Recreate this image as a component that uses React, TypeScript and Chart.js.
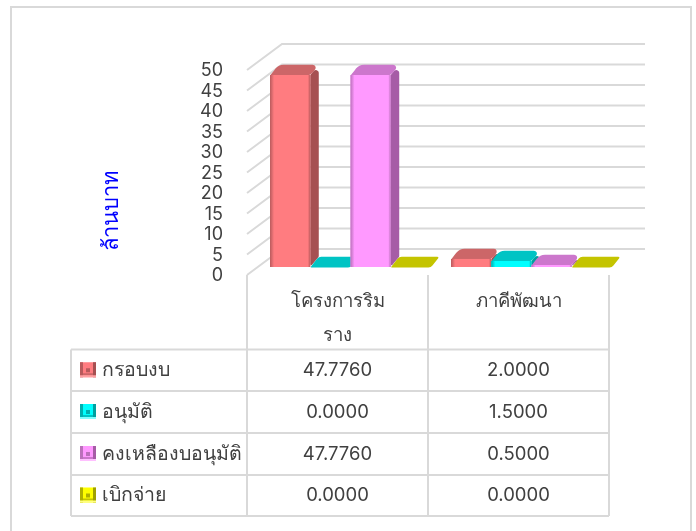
import React, { useEffect, useRef } from "react";
import { Chart, registerables } from "chart.js";

Chart.register(...registerables);

const categories = [["โครงการริม", "ราง"], ["ภาคีพัฒนา"]];
const seriesNames = ["กรอบงบ", "อนุมัติ", "คงเหลืองบอนุมัติ", "เบิกจ่าย"];
const budget = [47.776, 2.0];
const approved = [0, 1.5];
const remaining = [47.776, 0.5];
const disbursed = [0, 0];
const yTitle = "ล้านบาท";
const FONT = '"Inter", "Noto Sans", sans-serif';
const TEXT = "#404040";
const LINE = "#D9D9D9";

const palette = [
  { front: "#FF7C80", top: "#CC6668", side: "#A65052", dark: "#B85A5C", light: "#FFA0A2" },
  { front: "#00FFFF", top: "#00C4C4", side: "#00A0A0", dark: "#00B0B0", light: "#80FFFF" },
  { front: "#FF99FF", top: "#CC77CC", side: "#A65CA6", dark: "#BB70BB", light: "#FFC0FF" },
  { front: "#FFFF00", top: "#C4C400", side: "#A0A000", dark: "#B0B000", light: "#FFFF80" },
];

const DX = 13, DY = 8, BAR_SCALE = 0.98, DEPTH_X = 8.5, DEPTH_Y = 10.5;
const WALL_X = 35, WALL_Y = 26, WALL_RIGHT = 645;
const TABLE_LEFT = 71, TABLE_RIGHT = 609;
const ROWS = [349.5, 391, 433, 475, 516];

function rounded(ctx: CanvasRenderingContext2D, pts: number[][], radii: number[]) {
  ctx.beginPath();
  const n = pts.length;
  ctx.moveTo((pts[n - 1][0] + pts[0][0]) / 2, (pts[n - 1][1] + pts[0][1]) / 2);
  for (let i = 0; i < n; i++) {
    const p = pts[i], q = pts[(i + 1) % n];
    ctx.arcTo(p[0], p[1], q[0], q[1], radii[i]);
  }
  ctx.closePath();
}

const threeD = {
  id: "threeD",
  beforeDatasetsDraw(chart: any) {
    const { ctx, scales } = chart;
    const y = scales.y;
    const x = scales.x;
    ctx.save();
    ctx.strokeStyle = LINE;
    ctx.lineWidth = 2;
    y.ticks.forEach((t: any) => {
      const py = y.getPixelForValue(t.value);
      ctx.beginPath();
      ctx.moveTo(x.left, py);
      ctx.lineTo(x.left + WALL_X, py - WALL_Y);
      ctx.lineTo(WALL_RIGHT, py - WALL_Y);
      ctx.stroke();
    });
    ctx.restore();

    const zero = y.getPixelForValue(0);
    chart.data.datasets.forEach((_: any, index: number) => {
      const c = palette[index];
      const meta = chart.getDatasetMeta(index);
      ctx.save();
      ctx.translate(DX, zero - DY);
      ctx.scale(1, BAR_SCALE);
      ctx.translate(0, -zero);
      meta.data.forEach((bar: any) => {
        const x0 = bar.x - bar.width / 2, x1 = bar.x + bar.width / 2;
        const yT = bar.y, yB = bar.base;
        const h = yB - yT;
        if (h > 0.5) {
          ctx.fillStyle = c.side;
          rounded(ctx, [[x1, yT], [x1 + DEPTH_X, yT - DEPTH_Y], [x1 + DEPTH_X, yB - DEPTH_Y], [x1, yB]], [2, 3, 3, 1]);
          ctx.fill();
        }
        // top face, behind the front
        ctx.fillStyle = c.top;
        rounded(
          ctx,
          [[x0, yT + 0.5], [x1, yT + 0.5], [x1 + DEPTH_X, yT - DEPTH_Y], [x0 + DEPTH_X, yT - DEPTH_Y]],
          h > 0.5 ? [0.5, 7, 3, 10] : [0.5, 5, 1, 5],
        );
        ctx.fill();
      });
      meta.controller.draw();
      meta.data.forEach((bar: any) => {
        const x0 = bar.x - bar.width / 2, x1 = bar.x + bar.width / 2;
        const yT = bar.y, yB = bar.base;
        const h = yB - yT;
        if (h > 0.5) {
          const g = ctx.createLinearGradient(x0, 0, x1, 0);
          g.addColorStop(0, c.dark);
          g.addColorStop(0.1, c.front);
          g.addColorStop(0.94, c.front);
          g.addColorStop(1, c.dark);
          ctx.fillStyle = g;
          ctx.fillRect(x0, yT, x1 - x0, h);
        }
      });
      ctx.restore();
    });
    return false;
  },
  afterDraw(chart: any) {
    const { ctx, scales, chartArea } = chart;
    const x = scales.x;
    const mid = (x.getPixelForValue(0) + x.getPixelForValue(1)) / 2;
    const cols = [TABLE_LEFT, x.left, mid, TABLE_RIGHT];
    ctx.save();
    ctx.strokeStyle = LINE;
    ctx.lineWidth = 2;
    // outer frame
    ctx.strokeRect(11, 7, 680, 530);
    // table
    ROWS.forEach((r) => {
      ctx.beginPath();
      ctx.moveTo(TABLE_LEFT, r);
      ctx.lineTo(TABLE_RIGHT, r);
      ctx.stroke();
    });
    ctx.beginPath();
    ctx.moveTo(cols[0], ROWS[0]);
    ctx.lineTo(cols[0], ROWS[4]);
    for (let i = 1; i < 4; i++) {
      ctx.moveTo(cols[i], chartArea.bottom);
      ctx.lineTo(cols[i], ROWS[4]);
    }
    ctx.stroke();
    // rows
    ctx.textBaseline = "middle";
    chart.data.datasets.forEach((ds: any, i: number) => {
      const cy = (ROWS[i] + ROWS[i + 1]) / 2;
      ctx.fillStyle = TEXT;
      ctx.textAlign = "left";
      ctx.font = `19.5px ${FONT}`;
      ctx.fillText(ds.label, 102, cy);
      ctx.textAlign = "center";
      ctx.font = `18.5px ${FONT}`;
      ds.data.forEach((v: number, j: number) => {
        ctx.fillText(v.toFixed(4), x.getPixelForValue(j), cy);
      });
      // legend key: bright top edge, dark flanks, pale lower rim, soft centre
      const c = palette[i];
      const kx = 80, ky = cy - 8, kw = 16, kh = 15;
      ctx.fillStyle = c.front;
      ctx.fillRect(kx, ky, kw, kh);
      ctx.fillStyle = c.dark;
      ctx.fillRect(kx, ky, 3, kh);
      ctx.fillStyle = c.side;
      ctx.fillRect(kx + kw - 3, ky, 3, kh);
      ctx.fillStyle = c.top;
      ctx.fillRect(kx + 3, ky + kh - 4, kw - 6, 2);
      ctx.fillStyle = c.light;
      ctx.fillRect(kx, ky + kh - 2, kw, 2);
      ctx.fillStyle = c.dark;
      ctx.fillRect(kx + 6, ky + 6, kw - 12, kh - 11);
    });
    // y title
    ctx.translate(111, 210);
    ctx.rotate(-Math.PI / 2);
    ctx.fillStyle = "#0000FF";
    ctx.textAlign = "center";
    ctx.font = `22px ${FONT}`;
    ctx.fillText(yTitle, 0, 0);
    ctx.restore();
  },
};

export default function App() {
  const ref = useRef<HTMLCanvasElement>(null);
  useEffect(() => {
    document.body.style.margin = "0";
    document.body.style.overflow = "hidden";
    const series = [budget, approved, remaining, disbursed];
    const chart = new Chart(ref.current!, {
      type: "bar",
      data: {
        labels: categories as any,
        datasets: series.map((data, i) => ({
          label: seriesNames[i],
          data,
          backgroundColor: palette[i].front,
          categoryPercentage: 0.889,
          barPercentage: 1,
        })),
      },
      options: {
        responsive: false,
        animation: false,
        maintainAspectRatio: false,
        layout: { padding: { left: 0, right: 87, top: 70, bottom: 0 } },
        plugins: { legend: { display: false }, title: { display: false }, tooltip: { enabled: false } },
        scales: {
          y: {
            min: 0,
            max: 50,
            grid: { display: false, drawTicks: false },
            border: { display: false },
            afterFit: (s: any) => { s.width = 247; },
            ticks: { stepSize: 5, autoSkip: false, padding: 24, labelOffset: 1, color: TEXT, font: { family: FONT, size: 18 } },
          },
          x: {
            grid: { display: false, drawTicks: false },
            border: { display: false },
            afterFit: (s: any) => { s.height = 256; },
            ticks: {
              padding: 10,
              maxRotation: 0,
              autoSkip: false,
              color: TEXT,
              font: { family: FONT, size: 18.5, lineHeight: 1.8 },
            },
          },
        },
      },
      plugins: [threeD],
    });
    return () => chart.destroy();
  }, []);
  return (
    <div style={{ position: "absolute", left: 0, top: 0, width: 696, height: 531, background: "#fff" }}>
      <canvas ref={ref} width={696} height={531} style={{ display: "block" }} />
    </div>
  );
}
